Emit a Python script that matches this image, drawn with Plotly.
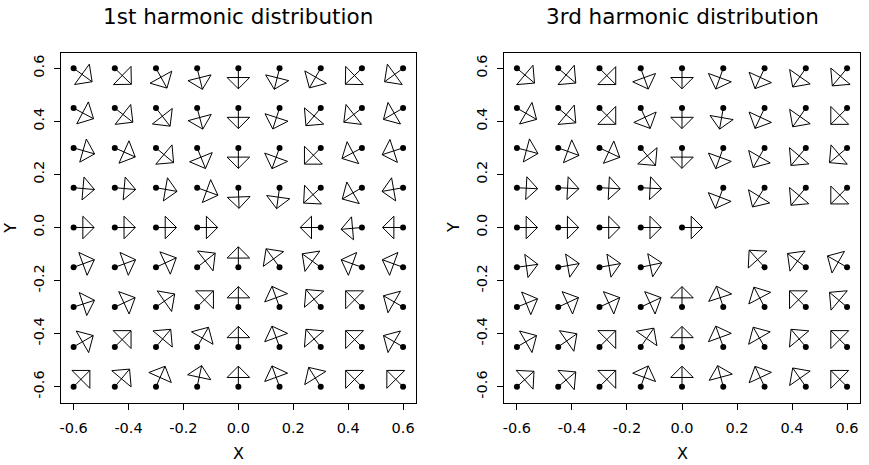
import math
import plotly.graph_objects as go

# grid positions
xs = [-0.6, -0.45, -0.3, -0.15, 0.0, 0.15, 0.3, 0.45, 0.6]
ys = [0.6, 0.45, 0.3, 0.15, 0.0, -0.15, -0.3, -0.45, -0.6]   # rows, top to bottom

# glyph direction (degrees, 0 = pointing right, 90 = up); None = no glyph
h1_angles = [
    [-36, -44, -61, -76, -90, -104, -120, -136, -144],
    [-28, -38, -52, -75, -90, -108, -130, -142, -150],
    [-16, -24, -40, -68, -90, -110, -135, -152, -162],
    [-5, -5, -10, -20, -88, -98, -138, -150, -170],
    [0, 0, 0, 0, None, None, 180, -175, 180],
    [20, 20, 25, 38, 90, 126, 144, 160, 160],
    [18, 25, 35, 45, 90, 110, 130, 135, 150],
    [30, 45, 50, 60, 90, 110, 130, 135, 150],
    [45, 50, 66, 78, 90, 110, 122, 135, 135],
]
h3_angles = [
    [-40, -40, -45, -70, -90, -110, -115, -125, -130],
    [-30, -40, -45, -65, -90, -100, -115, -125, -135],
    [-15, -20, -25, -50, -90, -110, -120, -130, -140],
    [-3, -3, -3, -3, None, -111, -122, -130, -135],
    [0, 0, 0, 0, 0, None, None, None, None],
    [8, 10, 10, 12, None, None, 132, 143, 150],
    [22, 25, 25, 25, 90, 108, 118, 135, 140],
    [30, 35, 45, 55, 90, 110, 120, 130, 135],
    [42, 40, 45, 70, 90, 105, 115, 125, 135],
]

titles = ["1st harmonic distribution", "3rd harmonic distribution"]
tick_vals = [-0.6, -0.4, -0.2, 0.0, 0.2, 0.4, 0.6]
tick_text = ["-0.6", "-0.4", "-0.2", "0.0", "0.2", "0.4", "0.6"]

W, H = 869, 465
XR = [-0.647, 0.647]
YR = [-0.6626, 0.6565]
# plot frames in screen pixels
frame_x = [[60.7, 416.0], [504.0, 860.0]]
frame_y = [53.3, 403.3]
xdom = [[a / W, b / W] for a, b in frame_x]
ydom = [(H - frame_y[1]) / H, (H - frame_y[0]) / H]

def px(v):
    return v / W

def py(v):
    return (H - v) / H

FONT = "DejaVu Sans"

fig = go.Figure()

for p, angles in enumerate([h1_angles, h3_angles]):
    sx = (xdom[p][1] - xdom[p][0]) * W / (XR[1] - XR[0])   # px per unit
    sy = (ydom[1] - ydom[0]) * H / (YR[1] - YR[0])
    lx, ly, dx, dy = [], [], [], []
    for r, yv in enumerate(ys):
        for c, xv in enumerate(xs):
            a = angles[r][c]
            if a is None:
                continue
            t = math.radians(a)
            L = 20.5 + 2.5 * abs(math.sin(2 * t))
            ux, uy = math.cos(t), math.sin(t)
            nx, ny = -uy, ux
            hw = 0.55 * L
            tip = (L * ux, L * uy)
            base = (0.45 * L * ux, 0.45 * L * uy)
            b1 = (base[0] + hw * nx, base[1] + hw * ny)
            b2 = (base[0] - hw * nx, base[1] - hw * ny)
            pts = [(0, 0), tip, None, tip, b1, b2, tip, None]
            for q in pts:
                if q is None:
                    lx.append(None); ly.append(None)
                else:
                    lx.append(xv + q[0] / sx); ly.append(yv + q[1] / sy)
            dx.append(xv); dy.append(yv)
    xa = "x" if p == 0 else "x2"
    ya = "y" if p == 0 else "y2"
    fig.add_trace(go.Scatter(x=lx, y=ly, mode="lines", xaxis=xa, yaxis=ya,
                             line=dict(color="black", width=1), hoverinfo="skip",
                             showlegend=False))
    fig.add_trace(go.Scatter(x=dx, y=dy, mode="markers", xaxis=xa, yaxis=ya,
                             marker=dict(color="black", size=6), showlegend=False))

axis_common = dict(showgrid=False, zeroline=False, showline=True, mirror=True,
                   linecolor="black", linewidth=1, ticks="outside", ticklen=6,
                   tickcolor="black", tickwidth=1, tickvals=tick_vals, ticktext=tick_text,
                   tickfont=dict(family=FONT, size=14.5, color="black"))

fig.update_layout(
    width=W, height=H, margin=dict(l=0, r=0, t=0, b=0, autoexpand=False),
    paper_bgcolor="white", plot_bgcolor="white",
    xaxis=dict(domain=xdom[0], range=XR, anchor="y", ticklabelstandoff=5, **axis_common),
    yaxis=dict(domain=ydom, range=YR, anchor="x", tickangle=-90, ticklabelstandoff=4, **axis_common),
    xaxis2=dict(domain=xdom[1], range=XR, anchor="y2", ticklabelstandoff=5, **axis_common),
    yaxis2=dict(domain=ydom, range=YR, anchor="x2", tickangle=-90, ticklabelstandoff=4, **axis_common),
)

ann = []
for p in range(2):
    cx = (frame_x[p][0] + frame_x[p][1]) / 2
    ann.append(dict(text=titles[p], x=px(cx), y=py(17), xref="paper", yref="paper",
                    showarrow=False, xanchor="center", yanchor="middle",
                    font=dict(family=FONT, size=21.5, color="black")))
    ann.append(dict(text="X", x=px(cx), y=py(453), xref="paper", yref="paper",
                    showarrow=False, xanchor="center", yanchor="middle",
                    font=dict(family=FONT, size=16, color="black")))
    ann.append(dict(text="Y", x=px(frame_x[p][0] - 51), y=py(228),
                    xref="paper", yref="paper", textangle=-90,
                    showarrow=False, xanchor="center", yanchor="middle",
                    font=dict(family=FONT, size=16, color="black")))
fig.update_layout(annotations=ann)

fig.write_html("out.html", config={"displayModeBar": False},
               post_script="document.body.style.margin='0px';document.body.style.overflow='hidden';")
